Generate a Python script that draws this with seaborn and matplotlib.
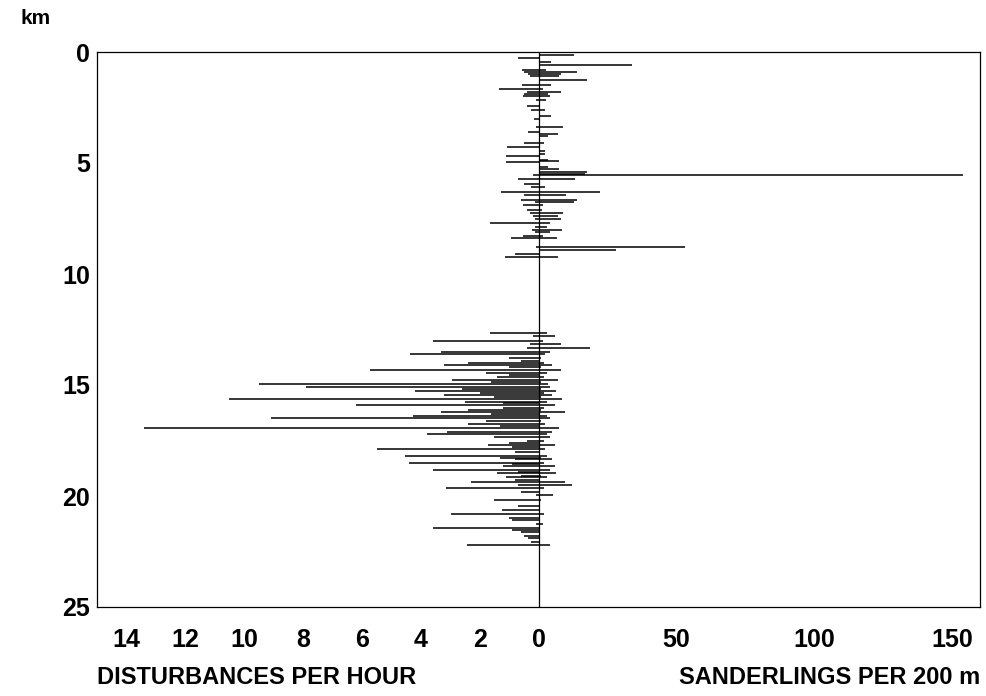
import matplotlib
matplotlib.use("Agg")
import matplotlib.pyplot as plt
import seaborn as sns
import pandas as pd

# ---- data ----
# Northern section: km, disturbances per hour (left), sanderlings per 200 m (right)
north_km = [0.12, 0.27, 0.47, 0.60, 0.80, 0.90, 1.00, 1.10, 1.25, 1.38, 1.50, 1.68,
            1.80, 1.90, 2.00, 2.15, 2.45, 2.60, 2.90, 3.00, 3.40, 3.60, 3.70, 3.80,
            4.10, 4.30, 4.45, 4.60, 4.70, 4.85, 4.92, 4.97, 5.16, 5.28, 5.40, 5.50,
            5.56, 5.70, 5.96, 6.10, 6.30, 6.45, 6.65, 6.75, 6.90, 7.10, 7.25, 7.40,
            7.50, 7.70, 7.90, 8.00, 8.10, 8.30, 8.40, 8.80, 8.90, 9.10, 9.25]
north_dist = [0.0, 0.7, 0.0, 0.0, 0.57, 0.5, 0.36, 0.3, 0.0, 0.0, 0.57, 1.33,
              0.4, 0.48, 0.54, 0.08, 0.4, 0.27, 0.0, 0.14, 0.08, 0.36, 0.0, 0.0,
              0.5, 1.06, 0.0, 0.0, 1.1, 0.0, 0.0, 1.1, 0.0, 0.0, 0.0, 0.0,
              0.2, 0.68, 0.5, 0.25, 1.27, 0.5, 0.6, 0.11, 0.53, 0.4, 0.3, 0.2,
              0.13, 1.65, 0.13, 0.23, 0.13, 0.53, 0.93, 0.08, 0.0, 0.8, 1.15]
north_sand = [12.8, 0.0, 4.6, 34.0, 2.8, 14.0, 8.0, 7.6, 17.5, 0.4, 4.6, 1.5,
              8.0, 3.4, 4.0, 2.8, 0.0, 2.2, 4.6, 0.0, 9.0, 0.0, 7.0, 3.4,
              1.9, 0.0, 2.2, 2.4, 0.0, 3.4, 7.6, 0.0, 3.4, 7.4, 17.4, 16.8,
              154.0, 13.3, 0.0, 2.4, 22.4, 9.8, 13.8, 12.7, 1.5, 1.2, 9.0, 7.2,
              8.2, 4.0, 3.0, 8.6, 4.0, 1.5, 6.8, 53.0, 28.0, 0.4, 7.0]

# Southern section
south_km = [12.67, 12.80, 13.00, 13.17, 13.35, 13.50, 13.62, 13.80, 13.90, 14.00,
            14.10, 14.20, 14.32, 14.47, 14.55, 14.62, 14.77, 14.87, 14.97, 15.07,
            15.17, 15.25, 15.35, 15.45, 15.55, 15.63, 15.75, 15.82, 15.90, 16.05,
            16.12, 16.20, 16.30, 16.40, 16.50, 16.62, 16.75, 16.85, 16.95, 17.10,
            17.20, 17.35, 17.50, 17.60, 17.70, 17.80, 17.90, 18.00, 18.18, 18.28,
            18.35, 18.50, 18.58, 18.65, 18.83, 18.90, 18.98, 19.08, 19.16, 19.27,
            19.36, 19.50, 19.65, 19.80, 19.97, 20.17, 20.45, 20.63, 20.80, 20.98,
            21.10, 21.25, 21.43, 21.55, 21.64, 21.80, 21.90, 22.05, 22.20]
south_dist = [1.65, 0.2, 3.57, 0.3, 0.4, 3.3, 4.37, 1.0, 0.6, 2.4,
              3.2, 1.0, 5.72, 1.8, 1.0, 1.4, 2.95, 1.6, 9.5, 7.9,
              2.6, 4.2, 2.0, 3.2, 1.5, 10.5, 2.5, 1.2, 6.2, 1.2,
              2.4, 3.3, 1.6, 4.25, 9.1, 1.8, 2.4, 1.3, 13.4, 3.1,
              3.8, 1.5, 0.4, 1.0, 1.7, 0.9, 5.5, 0.8, 4.55, 1.3,
              0.8, 4.4, 0.9, 1.2, 3.6, 0.7, 1.4, 0.6, 1.1, 0.8,
              2.3, 0.7, 3.15, 0.6, 0.1, 1.5, 0.7, 1.25, 2.97, 1.0,
              0.9, 0.1, 3.57, 0.9, 0.58, 0.5, 0.35, 0.25, 2.44]
south_sand = [3.0, 6.0, 1.5, 8.0, 18.5, 4.0, 2.5, 1.0, 0.0, 2.0,
              5.0, 1.0, 8.0, 3.0, 0.0, 2.0, 7.0, 1.0, 3.5, 4.0,
              1.0, 6.5, 2.0, 5.0, 1.0, 8.5, 3.0, 0.0, 6.0, 2.0,
              1.0, 9.5, 0.0, 3.0, 4.0, 1.0, 2.5, 0.0, 7.5, 5.0,
              3.0, 4.0, 2.0, 0.0, 6.0, 0.0, 2.5, 0.0, 3.0, 1.0,
              5.0, 2.0, 0.0, 6.0, 4.0, 0.0, 6.5, 1.0, 3.0, 0.0,
              9.5, 12.0, 2.0, 0.5, 5.3, 1.0, 0.5, 0.0, 2.0, 0.0,
              0.0, 1.5, 0.0, 0.0, 0.0, 0.0, 0.0, 0.0, 4.0]

left_ticks = [14, 12, 10, 8, 6, 4, 2, 0]
right_ticks = [50, 100, 150]
y_ticks = [0, 5, 10, 15, 20, 25]
LEFT_MAX = 15
RIGHT_MAX = 160

df = pd.DataFrame({
    "km": north_km + south_km,
    "dist": north_dist + south_dist,
    "sand": north_sand + south_sand,
})
scale = RIGHT_MAX / LEFT_MAX
df["left"] = -df["dist"] * scale

sns.set_style("white")
plt.rcParams["font.family"] = ["Liberation Sans", "DejaVu Sans"]
plt.rcParams["font.weight"] = "bold"
plt.rcParams["text.color"] = "black"
plt.rcParams["xtick.color"] = "black"
plt.rcParams["ytick.color"] = "black"

fig, ax = plt.subplots(figsize=(9.86, 6.96), dpi=100)
fig.subplots_adjust(left=97 / 986, right=980 / 986, top=1 - 52 / 696, bottom=1 - 607 / 696)

dl = df[df["dist"] > 0]
dr = df[df["sand"] > 0]
ax.hlines(dl["km"], dl["left"], 0, color="black", lw=1.1)
ax.hlines(dr["km"], 0, dr["sand"], color="black", lw=1.1)
ax.axvline(0, color="black", lw=0.9)

ax.set_xlim(-RIGHT_MAX, RIGHT_MAX)
ax.set_ylim(25, 0)

xt = [-t * scale for t in left_ticks] + right_ticks
xl = [str(t) for t in left_ticks] + [str(t) for t in right_ticks]
ax.set_xticks(xt)
ax.set_xticklabels(xl)
ax.set_yticks(y_ticks)
ax.set_yticklabels([str(t) for t in y_ticks])
ax.tick_params(axis="x", length=0, pad=15, labelsize=18, labelcolor="black")
ax.tick_params(axis="y", length=0, pad=5, labelsize=18, labelcolor="black")
for lab in ax.get_xticklabels() + ax.get_yticklabels():
    lab.set_fontweight("bold")

for s in ax.spines.values():
    s.set_visible(True)
    s.set_color("black")
    s.set_linewidth(0.9)

fig.text(97 / 986, 1 - 678 / 696, "DISTURBANCES PER HOUR", ha="left", va="center",
         fontsize=17, fontweight="bold", color="black")
fig.text(980 / 986, 1 - 678 / 696, "SANDERLINGS PER 200 m", ha="right", va="center",
         fontsize=17, fontweight="bold", color="black")
fig.text(20 / 986, 1 - 19 / 696, "km", ha="left", va="center", fontsize=15,
         fontweight="bold", color="black")

fig.savefig("out.png", dpi=100, facecolor="white")
